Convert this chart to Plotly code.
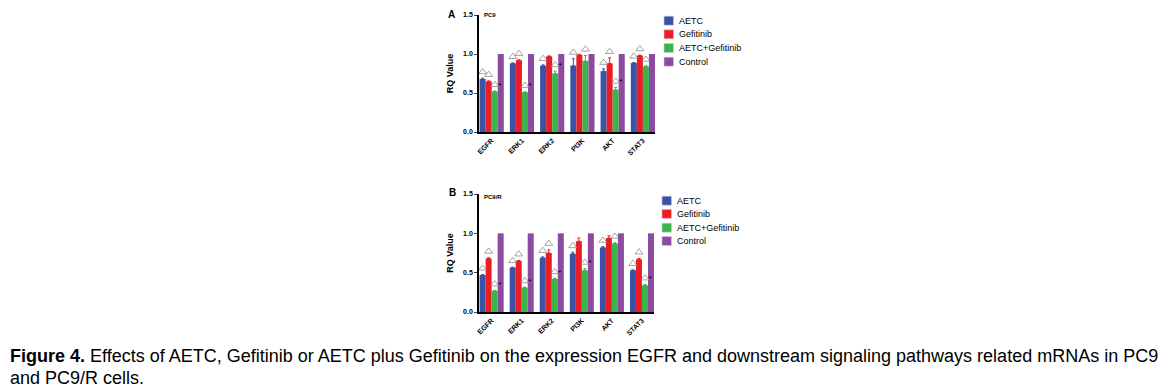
import plotly.graph_objects as go

genes = ["EGFR", "ERK1", "ERK2", "PI3K", "AKT", "STAT3"]
series = ["AETC", "Gefitinib", "AETC+Gefitinib", "Control"]
colors = ["#3A53A4", "#EC1C24", "#3AB54A", "#8D4B9F"]

# Panel A: PC9
a_aetc = [0.68, 0.88, 0.85, 0.85, 0.78, 0.885]
a_gef = [0.65, 0.92, 0.97, 0.99, 0.88, 0.98]
a_combo = [0.52, 0.51, 0.75, 0.91, 0.54, 0.84]
a_ctrl = [1.0, 1.0, 1.0, 1.0, 1.0, 1.0]
a_err_aetc = [0.01, 0.005, 0.01, 0.09, 0.03, 0.005]
a_err_gef = [0.005, 0.005, 0.005, 0.005, 0.07, 0.005]
a_err_combo = [0.005, 0.005, 0.03, 0.07, 0.03, 0.01]
# triangle flags per bar (1 = open triangle), star flags for combo bars
a_tri_aetc = [1, 1, 1, 1, 1, 1]
a_tri_gef = [1, 1, 0, 0, 1, 1]
a_tri_combo = [1, 1, 1, 1, 1, 1]
a_star = [1, 1, 1, 0, 1, 0]

# Panel B: PC9/R
b_aetc = [0.47, 0.565, 0.69, 0.74, 0.82, 0.53]
b_gef = [0.68, 0.65, 0.75, 0.90, 0.94, 0.67]
b_combo = [0.27, 0.31, 0.42, 0.53, 0.87, 0.34]
b_ctrl = [1.0, 1.0, 1.0, 1.0, 1.0, 1.0]
b_err_aetc = [0.005, 0.005, 0.01, 0.02, 0.01, 0.005]
b_err_gef = [0.01, 0.005, 0.04, 0.04, 0.03, 0.01]
b_err_combo = [0.005, 0.005, 0.01, 0.02, 0.01, 0.01]
b_tri_aetc = [1, 1, 1, 1, 1, 1]
b_tri_gef = [1, 1, 1, 0, 0, 1]
b_tri_combo = [1, 1, 1, 1, 1, 1]
b_star = [1, 1, 1, 1, 0, 1]

yticks = [0.0, 0.5, 1.0, 1.5]
ytick_text = ["0.0", "0.5", "1.0", "1.5"]

W, H = 1175, 391
FONT = "Liberation Sans, Arial, sans-serif"

fig = go.Figure()


def add_panel(xa, ya, xov, vals, errs, tris, stars):
    nser = 4
    width = 0.8 / nser
    for i, (name, v) in enumerate(zip(series, vals)):
        e = errs[i]
        kw = {}
        if e is not None:
            kw["error_y"] = dict(type="data", array=e, arrayminus=[0] * len(v), symmetric=False,
                                 visible=True, color=colors[i], thickness=1, width=1.5)
        fig.add_trace(go.Bar(
            x=genes, y=v, name=name, marker=dict(color=colors[i], line=dict(width=0)),
            xaxis=xa, yaxis=ya, showlegend=False, **kw,
        ))
    for i in range(3):
        xs, ys = [], []
        for j in range(len(genes)):
            if tris[i][j]:
                xs.append(j - 0.4 + width * (i + 0.5))
                ys.append(vals[i][j] + errs[i][j] + 0.08)
        fig.add_trace(go.Scatter(
            x=xs, y=ys, mode="markers", showlegend=False, hoverinfo="skip",
            marker=dict(symbol="triangle-up-open", size=7, color="#8a8a8a", line=dict(width=0.8)),
            xaxis=xov, yaxis=ya,
        ))
    xs, ys = [], []
    for j in range(len(genes)):
        if stars[j]:
            xs.append(j - 0.4 + width * 2.5 + 0.17)
            ys.append(vals[2][j] + errs[2][j] + 0.07)
    fig.add_trace(go.Scatter(
        x=xs, y=ys, mode="text", text=["*"] * len(xs), showlegend=False, hoverinfo="skip",
        textfont=dict(size=8, color="black", family=FONT),
        xaxis=xov, yaxis=ya,
    ))


def add_legend(x0, ycenters, xtext):
    for name, c, yc in zip(series, colors, ycenters):
        fig.add_shape(type="rect", xref="paper", yref="paper",
                      x0=x0 / W, x1=(x0 + 9.5) / W, y0=1 - (yc + 4.5) / H, y1=1 - (yc - 4.5) / H,
                      fillcolor=c, line=dict(color="#d8c8e0", width=0.6))
        fig.add_annotation(text=name, x=xtext / W, y=1 - yc / H, xref="paper", yref="paper",
                           xanchor="left", yanchor="middle", showarrow=False,
                           font=dict(family=FONT, size=9, color="black"))


add_panel("x", "y", "x3",
          [a_aetc, a_gef, a_combo, a_ctrl],
          [a_err_aetc, a_err_gef, a_err_combo, None],
          [a_tri_aetc, a_tri_gef, a_tri_combo], a_star)
add_panel("x2", "y2", "x4",
          [b_aetc, b_gef, b_combo, b_ctrl],
          [b_err_aetc, b_err_gef, b_err_combo, None],
          [b_tri_aetc, b_tri_gef, b_tri_combo], b_star)

add_legend(664, [20.7, 34.3, 48.0, 61.7], 677)
add_legend(662, [200.7, 213.9, 227.7, 241.0], 675)

dA_x = [479 / W, 655 / W]
dA_y = [1 - 132 / H, 1 - 15 / H]
dB_x = [479 / W, 654 / W]
dB_y = [1 - 312 / H, 1 - 194 / H]

xcommon = dict(showline=True, linecolor="black", linewidth=1.5, ticks="", showgrid=False,
               tickangle=-45, tickfont=dict(family=FONT, size=7, color="black", weight="bold"),
               range=[-0.42, 5.4], zeroline=False, automargin=False)
ycommon = dict(showline=True, linecolor="black", linewidth=1.5, ticks="outside", ticklen=3, tickwidth=1,
               showgrid=False, range=[0, 1.5], tickvals=yticks, ticktext=ytick_text,
               tickfont=dict(family=FONT, size=7, color="black", weight="bold"),
               title=dict(text="<b>RQ Value</b>", font=dict(family=FONT, size=9, color="black"), standoff=8),
               zeroline=False, automargin=False)
ovl = dict(range=[-0.42, 5.4], visible=False, showgrid=False, zeroline=False)

fig.update_layout(
    width=W, height=H, margin=dict(l=0, r=0, t=0, b=0, autoexpand=False),
    paper_bgcolor="white", plot_bgcolor="white",
    barmode="group", bargap=0.2, bargroupgap=0,
    xaxis=dict(domain=dA_x, anchor="y", **xcommon),
    yaxis=dict(domain=dA_y, anchor="x", **ycommon),
    xaxis2=dict(domain=dB_x, anchor="y2", **xcommon),
    yaxis2=dict(domain=dB_y, anchor="x2", **ycommon),
    xaxis3=dict(domain=dA_x, anchor="y", overlaying="x", **ovl),
    xaxis4=dict(domain=dB_x, anchor="y2", overlaying="x2", **ovl),
    showlegend=False,
)


def label(text, x, y, size, xanchor="center"):
    fig.add_annotation(text=text, x=x / W, y=1 - y / H, xref="paper", yref="paper",
                       xanchor=xanchor, yanchor="middle", showarrow=False,
                       font=dict(family=FONT, size=size, color="black"))


label("<b>A</b>", 451, 15, 10)
label("<b>B</b>", 452, 192, 10)
label("<b>PC9</b>", 482, 15, 6, "left")
label("<b>PC9/R</b>", 482, 197, 6, "left")

cap1 = ("<b>Figure 4.</b> Effects of AETC, Gefitinib or AETC plus Gefitinib on the expression EGFR and "
        "downstream signaling pathways related mRNAs in PC9")
cap2 = "and PC9/R cells."
label(cap1, 8, 356, 18, "left")
label(cap2, 8, 378, 18, "left")

fig.write_html("out.html", config={"displayModeBar": False},
               post_script="document.body.style.margin='0';document.body.style.padding='0';")
